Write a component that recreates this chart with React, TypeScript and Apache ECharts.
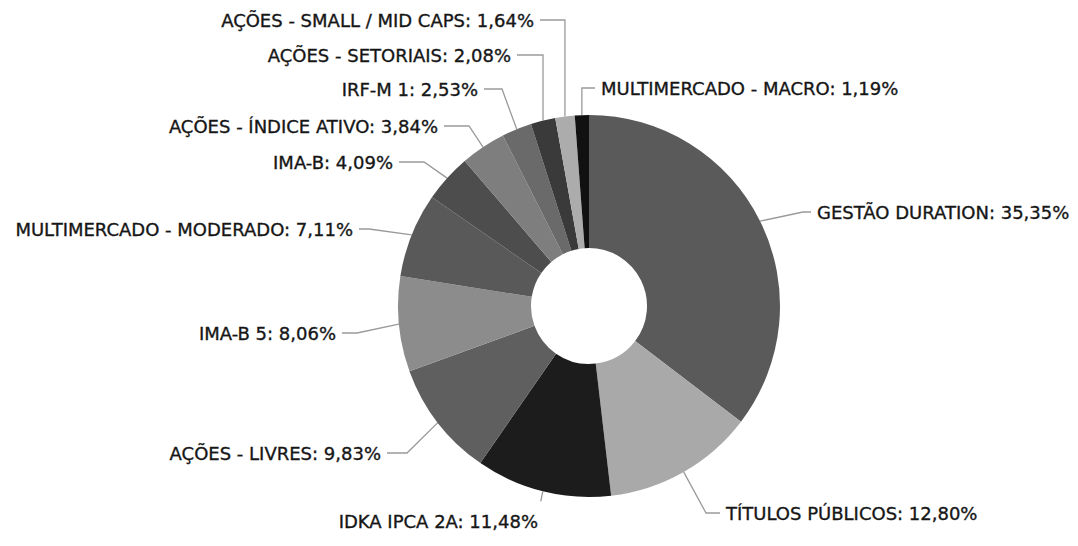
import React, { useEffect, useRef } from "react";
import * as echarts from "echarts";

const categories = [
  "GESTÃO DURATION",
  "TÍTULOS PÚBLICOS",
  "IDKA IPCA 2A",
  "AÇÕES - LIVRES",
  "IMA-B 5",
  "MULTIMERCADO - MODERADO",
  "IMA-B",
  "AÇÕES - ÍNDICE ATIVO",
  "IRF-M 1",
  "AÇÕES - SETORIAIS",
  "AÇÕES - SMALL / MID CAPS",
  "MULTIMERCADO - MACRO",
];

const values = [35.35, 12.8, 11.48, 9.83, 8.06, 7.11, 4.09, 3.84, 2.53, 2.08, 1.64, 1.19];

const sliceColors = [
  "#5a5a5a",
  "#a9a9a9",
  "#1c1c1c",
  "#5f5f5f",
  "#8c8c8c",
  "#595959",
  "#4d4d4d",
  "#7e7e7e",
  "#6a6a6a",
  "#3a3a3a",
  "#acacac",
  "#111111",
];

// label placement (layout only): anchor x, y, alignment, leader-line mode and elbow offset
const labelPlacement: { x: number; y: number; align: "left" | "right"; mode: "h" | "v" | "s"; off: number }[] = [
  { x: 817, y: 212, align: "left", mode: "h", off: 8 },
  { x: 726, y: 513, align: "left", mode: "h", off: 14 },
  { x: 538, y: 521, align: "right", mode: "s", off: 0 },
  { x: 381, y: 453, align: "right", mode: "h", off: 20 },
  { x: 336, y: 333, align: "right", mode: "h", off: 15 },
  { x: 353, y: 229, align: "right", mode: "h", off: 10 },
  { x: 393, y: 162, align: "right", mode: "h", off: 25 },
  { x: 438, y: 126, align: "right", mode: "h", off: 25 },
  { x: 478, y: 89, align: "right", mode: "h", off: 18 },
  { x: 511, y: 55, align: "right", mode: "v", off: 0 },
  { x: 534, y: 20, align: "right", mode: "v", off: 0 },
  { x: 601, y: 88, align: "left", mode: "v", off: 0 },
];

const fmt = (v: number) => v.toFixed(2).replace(".", ",") + "%";

export default function App() {
  const ref = useRef<HTMLDivElement>(null);
  useEffect(() => {
    if (!ref.current) return;
    const chart = echarts.init(ref.current, null, { renderer: "svg" });
    const data = categories.map((name, i) => ({
      name,
      value: values[i],
      itemStyle: { color: sliceColors[i] },
    }));
    chart.setOption({
      animation: false,
      backgroundColor: "#ffffff",
      series: [
        {
          type: "pie",
          center: [589, 306],
          radius: [58, 191],
          startAngle: 90,
          clockwise: true,
          avoidLabelOverlap: false,
          emphasis: { disabled: true },
          data,
          label: {
            show: true,
            position: "outside",
            fontFamily: "DejaVu Sans",
            fontSize: 18,
            color: "#161616",
            textBorderColor: "#161616",
            textBorderWidth: 0.35,
            formatter: (p: any) => `${p.name}: ${fmt(p.value)}`,
          },
          labelLine: {
            show: true,
            length: 10,
            length2: 10,
            lineStyle: { color: "#9a9a9a", width: 1.3 },
          },
          labelLayout: (params: any) => {
            const i = params.dataIndex;
            const pl = labelPlacement[i];
            const start = params.labelLinePoints ? params.labelLinePoints[0] : [pl.x, pl.y];
            let end: number[];
            let elbow: number[];
            if (pl.align === "right") {
              end = [pl.x + 6, pl.y];
              elbow = pl.mode === "v" ? [start[0], pl.y] : [pl.x + 6 + pl.off, pl.y];
            } else {
              end = [pl.x - 6, pl.y];
              elbow = pl.mode === "v" ? [start[0], pl.y] : [pl.x - 6 - pl.off, pl.y];
            }
            let pts = [start, elbow, end];
            if (pl.mode === "s") {
              const e = [start[0] - 2, start[1] + 10];
              pts = [start, e, e];
            }
            return {
              x: pl.x,
              y: pl.y,
              align: pl.align,
              verticalAlign: "middle",
              labelLinePoints: pts,
            };
          },
        },
      ],
    });
    return () => chart.dispose();
  }, []);
  return (
    <div
      ref={ref}
      style={{ position: "absolute", left: 0, top: 0, width: 1078, height: 546, background: "#fff" }}
    />
  );
}
